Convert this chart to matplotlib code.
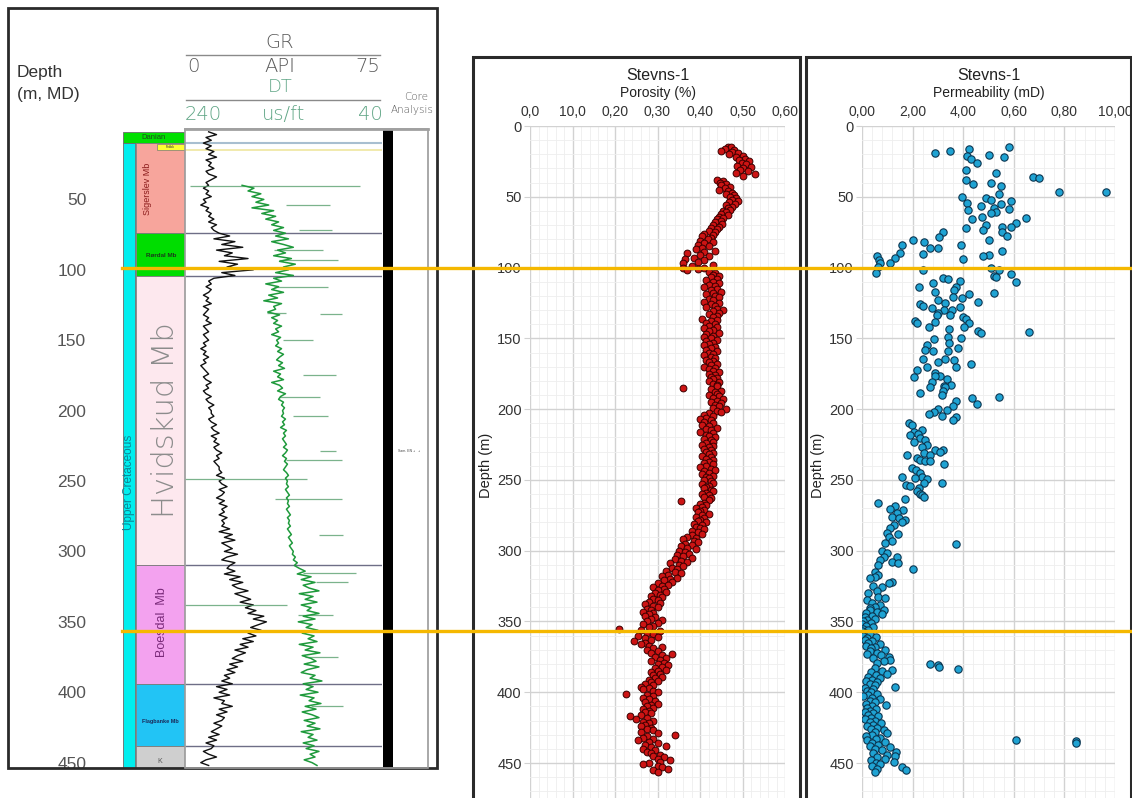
import matplotlib
matplotlib.use("Agg")
import matplotlib.pyplot as plt
import matplotlib.transforms as mtransforms
from matplotlib.patches import Rectangle
from matplotlib.lines import Line2D
from matplotlib.ticker import MultipleLocator
import numpy as np

plt.rcParams['font.family'] = ['Liberation Sans', 'DejaVu Sans']

# ---------------- data ----------------
# formation column (depth in m)
danian_top, danian_base = 2.0, 10.0
fred_top, fred_base = 10.7, 14.9
member_names = ["Sigerslev Mb", "Rørdal Mb", "Hvidskud Mb", "Boesdal  Mb", "Flagbanke Mb", "K"]
member_top = [10.0, 74.0, 104.4, 309.7, 394.2, 438.2]
member_base = [74.0, 104.4, 309.7, 394.2, 438.2, 453.8]
member_colors = ["#f7a59c", "#00dd00", "#fde8ee", "#f3a2ef", "#22c4f5", "#cfcfcf"]

# log curves
gr_depth = np.arange(2, 453, 2)
gr_api = [
    9, 12, 8, 10, 7,
    10, 8, 11, 9, 12, 8, 10, 9, 11, 8, 9, 12, 10, 8, 9,
    7, 9, 8, 10, 7, 8, 6, 9, 8, 10, 9, 11, 9, 12, 10, 11,
    13, 17, 11, 19, 14, 22, 12, 18, 15, 24, 13, 20, 16, 26, 14, 19,
    11, 9, 10, 8, 10, 9, 7, 9, 8, 10, 7, 9, 8, 7, 9, 8, 10, 7, 8, 9, 7, 8, 9,
    7, 8, 6, 8, 7, 9, 7, 8, 6, 7, 8, 9, 7, 8, 10, 8, 9, 7, 8, 10, 8, 9, 11, 9, 10,
    10, 11, 9, 10, 12, 10, 11, 13, 10, 12, 11, 13, 11, 12, 14, 12, 13, 11, 12, 13,
    13, 14, 12, 15, 13, 14, 16, 13, 15, 14, 12, 15, 13, 16, 14, 15, 13, 16, 14, 15,
    14, 17, 13, 18, 15, 19, 14, 16, 18, 15, 20, 16, 14, 19, 17,
    16, 19, 15, 21, 17, 22, 18, 20, 24, 19, 22, 25, 21, 26, 23,
    27, 24, 30, 26, 31, 28, 25, 29, 24, 27,
    22, 26, 21, 24, 19, 23, 20, 18, 22, 17, 20, 16, 19, 15, 17,
    14, 18, 12, 16, 13, 17, 11, 15, 14, 18, 13, 16, 12, 15, 14,
    11, 14, 12, 10, 13, 9, 12, 8, 11, 10, 7, 9, 12, 8, 6, 9,
]
dt_depth = np.arange(40, 453, 2)
dt_usft = [
    182, 170, 176, 163, 172, 160,
    168, 155, 172, 150, 162, 148, 158, 145, 152, 140, 150, 138,
    148, 135, 152, 140, 130, 146, 138, 150, 132, 144, 128, 140, 135, 148, 130,
    150, 142, 158, 145, 152, 140, 155, 146, 160, 142, 150, 148, 156, 144, 152, 146, 150, 142, 148, 145, 152, 143, 147,
    145, 148, 142, 146, 140, 144, 147, 141, 145, 139, 150, 143, 146, 140, 152, 144, 141, 146, 138, 143, 145, 140, 142, 139, 141,
    140, 142, 138, 141, 139, 143, 137, 140, 138, 141, 139, 137, 140, 136, 138, 141, 137, 139, 136, 138, 140, 137, 135, 138, 136,
    137, 135, 138, 136, 134, 137, 135, 136, 134, 137, 135, 133, 136, 134, 135, 133, 136, 134, 132, 135, 133, 131, 134, 132, 130,
    131, 128, 130, 126, 129, 124,
    118, 126, 112, 122, 108, 120, 114, 104, 124, 110, 118, 106, 122, 112, 116, 104, 120, 108, 125, 111, 117, 105, 121, 109,
    115, 106, 124, 110, 118, 103, 121, 112, 107, 119, 104, 116, 122, 108, 113, 101, 120, 110, 117, 105, 123, 109, 114, 102, 118,
    107, 121, 111, 104, 119, 108, 116, 103, 122, 110, 115, 106, 120, 109, 117, 104, 113, 108, 119, 111, 106,
]
dt_spike_depth = [40.5, 54, 72, 86, 93, 112, 131, 131.5, 150, 175, 190, 204, 229, 235,
                  248.6, 263, 288, 315, 322, 338.3, 345, 375, 410]
dt_spike_from = [235, 137, 124, 150, 145, 150, 157, 103, 140, 120, 145, 130, 103, 137,
                 240, 149, 104, 120, 107, 240, 125, 118, 112]
dt_spike_to = [62, 93, 91, 100, 85, 95, 137, 81, 110, 87, 103, 95, 87, 81,
               116, 81, 80, 66, 75, 136, 90, 85, 80]

# core porosity (fraction) vs depth (m)
por_depth = ([14.5, 15, 16, 17, 18, 18.5, 19, 20, 21, 22] + list(range(23, 36))
             + list(range(38, 101)) + [100.5, 101, 102, 103] + list(range(104, 457)))
porosity = [
    .465, .472, .458, .480, .450, .475, .490, .468, .500, .485,
    .505, .492, .515, .498, .508, .488, .520, .502, .495, .512,
    .485, .530, .500, .440, .455, .448, .462, .450, .470, .458,
    .445, .465, .475, .460, .480, .470, .485, .475, .490, .468,
    .482, .460, .475, .465, .470, .455, .460, .450, .465, .445,
    .455, .440, .450, .435, .452, .430, .445, .425, .440, .420,
    .435, .410, .430, .405, .425, .418, .400, .430, .410, .395,
    .420, .405, .390, .435, .410, .370, .400, .420, .385, .365,
    .410, .395, .360, .430, .380, .360, .410, .395, .370, .420,
    .435, .430, .445, .425, .440, .415, .430, .445, .420, .435,
    .410, .440, .425, .450, .430, .415, .435, .445, .420, .430,
    .410, .445, .425, .435, .415, .440, .455, .430, .445, .420,
    .440, .430, .405, .440, .425, .415, .435, .420, .440, .410,
    .430, .420, .445, .415, .430, .410, .425, .440, .415, .430,
    .420, .410, .435, .425, .415, .440, .420, .430, .410, .425,
    .435, .415, .430, .420, .440, .425, .410, .435, .420, .430,
    .445, .420, .435, .425, .440, .430, .420, .445, .430, .440,
    .440, .360, .425, .450, .435, .440, .420, .445, .430, .455,
    .440, .425, .450, .435, .445, .430, .460, .440, .450, .420,
    .410, .430, .415, .400, .425, .410, .430, .405, .420, .440,
    .415, .425, .400, .430, .415, .420, .435, .410, .425, .430,
    .415, .405, .430, .420, .410, .425, .415, .430, .420, .405,
    .425, .415, .430, .420, .410, .430, .415, .400, .425, .435,
    .410, .420, .405, .430, .415, .420, .410, .425, .430, .405,
    .420, .415, .410, .425, .430, .415, .405, .420, .410, .425,
    .420, .355, .410, .400, .415, .405, .390, .410, .400, .395,
    .420, .405, .390, .410, .400, .395, .415, .385, .405, .390,
    .400, .410, .380, .395, .405, .380, .370, .390, .360, .385,
    .395, .365, .380, .355, .370, .390, .350, .365, .375, .345,
    .360, .380, .340, .355, .370, .330, .350, .360, .335, .345,
    .320, .340, .355, .325, .310, .345, .330, .315, .335, .300,
    .325, .310, .290, .315, .300, .320, .295, .305, .285, .310,
    .290, .300, .280, .305, .270, .290, .300, .275, .285, .265,
    .290, .280, .270, .295, .285, .310, .275, .300, .265, .290,
    .280, .210, .260, .305, .275, .290, .255, .300, .270, .285,
    .245, .270, .260, .280, .310, .290, .275, .300, .285, .335,
    .310, .295, .320, .305, .285, .315, .300, .325, .310, .295,
    .320, .300, .285, .305, .290, .310, .295, .280, .300, .285,
    .270, .290, .260, .280, .265, .290, .300, .225, .275, .290,
    .265, .280, .295, .270, .300, .285, .275, .290, .265, .280,
    .270, .285, .260, .235, .275, .250, .290, .265, .280, .270,
    .260, .285, .275, .290, .260, .300, .340, .275, .265, .290,
    .255, .280, .300, .270, .320, .285, .265, .295, .275, .285,
    .305, .290, .315, .300, .330, .305, .280, .265, .300, .310,
    .325, .290, .300,
]

# core permeability (mD) vs depth (m)
perm_depth = [
    15.1, 16.5, 17.4, 19.3, 20.5, 21.2, 22.1, 23.5, 26.4, 31.1,
    33.4, 35.8, 37.0, 38.1, 40.0, 41.2, 42.4, 46.4, 46.4, 48.0,
    49.9, 51.0, 52.3, 52.7, 54.2, 55.0, 56.5, 58.2, 58.4, 59.3,
    60.5, 61.2, 64.0, 65.2, 65.9, 68.3, 70.0, 71.1, 71.6, 72.3,
    73.5, 74.6, 75.1, 77.7, 78.2, 80.5, 80.5, 82.0, 84.0, 84.0,
    86.4, 86.4, 88.3, 89.5, 90.4, 91.1, 91.8, 92.0, 93.5, 94.2,
    95.0, 96.5, 97.0, 99.4, 100.0, 101.7, 101.7, 103.6, 104.5, 105.7,
    106.4, 107.1, 108.0, 109.3, 110.0, 111.1, 113.5, 113.5, 115.9, 117.0,
    117.7, 118.7, 120.6, 121.7, 123.0, 124.0, 125.3, 126.0, 127.0, 128.0,
    128.8, 130.0, 130.0, 131.9, 133.5, 133.5, 134.7, 136.3, 137.5, 138.2,
    138.9, 139.4, 141.8, 141.8, 143.6, 144.6, 145.3, 146.5, 148.9, 150.0,
    150.7, 153.5, 154.7, 157.0, 158.2, 158.7, 159.0, 164.4, 164.6, 165.3,
    166.5, 168.1, 170.5, 170.5, 172.4, 174.2, 176.6, 176.6, 177.0, 179.0,
    180.6, 183.0, 183.7, 184.2, 184.6, 187.0, 188.4, 190.0, 191.2, 192.4,
    194.0, 196.4, 197.8, 200.1, 200.6, 201.8, 203.4, 204.9, 205.8, 207.7,
    210.1, 211.2, 214.8, 216.0, 217.6, 218.3, 220.6, 221.8, 223.0, 225.3,
    226.5, 228.9, 228.9, 230.0, 230.8, 232.4, 232.4, 234.8, 236.0, 236.5,
    236.7, 239.0, 241.8, 243.0, 245.4, 247.7, 247.7, 248.9, 249.6, 252.0,
    252.4, 253.6, 254.3, 256.0, 257.6, 260.0, 260.7, 261.9, 263.8, 266.1,
    268.5, 270.8, 271.3, 273.2, 276.0, 277.2, 278.3, 279.5, 281.9, 284.2,
    287.7, 288.2, 290.1, 292.9, 294.8, 295.5, 300.0, 301.9, 304.2, 304.2,
    306.6, 308.2, 309.0, 310.1, 313.2, 314.8, 317.2, 318.8, 319.5, 321.9,
    323.0, 325.0, 325.9, 328.3, 330.1, 332.5, 333.7, 334.9, 337.2, 338.4,
    339.6, 340.7, 341.9, 342, 343, 344, 345, 346, 347, 348,
    349, 350, 351, 352, 353, 354, 355, 356, 357, 358,
    359, 360, 361, 362, 363, 364, 365, 366, 367, 368,
    369, 370, 371, 372, 373, 374, 375, 376, 377, 378,
    379, 380, 381, 382, 383, 383.5, 384, 385, 386, 387,
    388, 389, 390, 391, 392, 393, 394, 395, 396, 397,
    398, 399, 400, 401, 402, 403, 404, 405, 406, 407,
    408, 409, 410, 411, 412, 413, 414, 415, 416, 417,
    418, 419, 420, 421, 422, 423, 424, 425, 426, 427,
    428, 429, 430, 431, 432, 433, 434, 434, 434.5, 435.5,
    435, 436, 437, 438, 439, 440, 441, 442, 443, 444,
    445, 446, 447, 448, 449, 450, 451, 452, 453, 454,
    455, 456,
]
permeability = [
    5.82, 4.23, 3.46, 2.90, 5.02, 4.16, 5.62, 4.29, 4.56, 4.10,
    5.30, 6.75, 7.00, 4.10, 5.10, 4.40, 5.50, 7.80, 9.66, 5.40,
    3.96, 4.90, 5.10, 5.90, 4.16, 5.50, 4.70, 5.20, 5.80, 4.20,
    5.30, 5.10, 4.76, 6.48, 4.36, 6.08, 4.90, 5.55, 5.90, 4.10,
    4.80, 5.55, 3.20, 5.75, 3.06, 5.00, 2.00, 2.46, 1.60, 3.90,
    2.70, 3.00, 5.55, 1.50, 2.40, 5.00, 4.80, 0.58, 1.30, 4.00,
    0.68, 0.72, 1.10, 0.63, 5.10, 2.40, 5.40, 0.55, 5.90, 5.20,
    5.30, 3.20, 3.40, 3.86, 6.10, 2.80, 2.24, 3.70, 3.63, 2.88,
    5.20, 4.23, 3.60, 3.96, 3.00, 4.60, 3.30, 2.30, 2.40, 3.87,
    2.77, 3.23, 3.54, 3.00, 2.97, 3.46, 4.00, 4.10, 2.10, 2.90,
    4.23, 2.17, 2.64, 4.03, 3.45, 4.60, 6.60, 4.70, 3.38, 3.90,
    2.83, 3.45, 2.56, 3.78, 2.50, 2.80, 3.38, 3.30, 2.43, 3.65,
    3.00, 4.30, 3.70, 2.57, 2.17, 2.90, 3.10, 2.90, 2.04, 3.37,
    2.77, 3.50, 3.25, 2.70, 3.30, 3.20, 2.30, 3.15, 5.40, 4.36,
    3.70, 4.56, 3.60, 3.00, 3.37, 2.84, 2.64, 3.15, 3.70, 3.60,
    1.84, 1.97, 2.37, 2.04, 2.20, 1.90, 2.30, 2.50, 2.07, 2.57,
    2.37, 2.90, 3.20, 3.10, 2.44, 1.77, 2.70, 2.17, 2.30, 2.50,
    2.70, 3.23, 1.97, 2.13, 2.30, 2.37, 1.58, 2.10, 2.57, 3.15,
    2.44, 1.74, 1.90, 2.24, 2.17, 2.30, 2.37, 2.44, 1.70, 0.65,
    1.30, 1.10, 1.64, 1.38, 1.18, 1.47, 1.70, 1.58, 1.25, 1.11,
    0.98, 1.44, 1.05, 1.18, 0.91, 3.70, 0.78, 0.98, 0.85, 1.38,
    0.71, 1.18, 1.44, 0.65, 2.00, 0.52, 0.65, 0.52, 0.32, 1.18,
    1.05, 0.45, 0.78, 0.58, 0.25, 0.65, 0.91, 0.19, 0.38, 0.71,
    0.52, 0.32, 0.85, 0.30, 0.60, 0.15, 0.80, 0.40, 0.10, 0.50,
    0.20, 0.05, 0.35, 0.00, 0.15, 0.45, 0.05, 0.25, 0.00, 0.10,
    0.30, 0.05, 0.55, 0.20, 0.10, 0.40, 0.25, 0.70, 0.15, 0.50,
    0.35, 0.90, 0.30, 0.60, 0.20, 0.75, 1.05, 0.45, 1.10, 0.85,
    0.60, 2.70, 3.00, 3.05, 0.50, 3.80, 1.20, 0.80, 0.35, 1.00,
    0.55, 0.25, 0.70, 0.40, 0.15, 0.60, 0.30, 0.50, 1.30, 0.10,
    0.45, 0.20, 0.35, 0.60, 0.25, 0.05, 0.40, 0.70, 0.30, 0.50,
    0.15, 0.95, 0.40, 0.20, 0.55, 0.30, 0.10, 0.45, 0.25, 0.65,
    0.35, 0.10, 0.50, 0.30, 0.75, 0.45, 0.20, 0.60, 0.35, 0.85,
    0.50, 1.00, 0.40, 0.15, 0.70, 0.55, 0.20, 6.10, 8.45, 8.45,
    0.90, 0.40, 0.65, 0.30, 1.10, 0.50, 0.80, 1.35, 0.45, 1.00,
    1.30, 0.60, 0.90, 0.35, 1.25, 0.55, 0.70, 0.40, 1.60, 0.60,
    1.75, 0.50,
]

por_ticks = [0, 0.1, 0.2, 0.3, 0.4, 0.5, 0.6]
por_ticklabels = ["0,0", "10,0", "0,20", "0,30", "0,40", "0,50", "0,60"]
perm_ticks = [0, 2, 4, 6, 8, 10]
perm_ticklabels = ["0,00", "2,00", "4,00", "0,60", "0,80", "10,00"]
depth_ticks = [0, 50, 100, 150, 200, 250, 300, 350, 400, 450]
marker_depths = [100.2, 356.7]   # the two orange correlation lines

# ---------------- layout helpers (pixel -> figure fraction) ----------------
W, H = 1132, 798


def fx(x):
    return x / W


def fy(y):
    return 1 - y / H


def box(x0, y0, x1, y1):
    return [fx(x0), fy(y1), fx(x1) - fx(x0), fy(y0) - fy(y1)]


def frame(x0, y0, x1, y1, **kw):
    fig.add_artist(Rectangle((fx(x0), fy(y1)), fx(x1) - fx(x0), fy(y0) - fy(y1),
                             transform=fig.transFigure, fill=False, **kw))


def hline(x0, x1, y, **kw):
    fig.add_artist(Line2D([fx(x0), fx(x1)], [fy(y), fy(y)], transform=fig.transFigure, **kw))


fig = plt.figure(figsize=(W / 100, H / 100), dpi=100)
track_bottom = member_base[-1]
light = dict(family=['DejaVu Sans'], fontweight='light')

# ---------------- left panel: well log ----------------
frame(8, 8, 437, 768, ec='#2a2a2a', lw=2)
fig.text(fx(17), fy(72), "Depth", ha='left', va='center', fontsize=12.5, color='#333')
fig.text(fx(17), fy(95), "(m, MD)", ha='left', va='center', fontsize=12.5, color='#333')

gray_t, green_t = '#5a5a5a', '#5fa585'
fig.text(fx(280), fy(42), "GR", ha='center', va='center', fontsize=14, color=gray_t, **light)
hline(186, 380, 55, color='#8a8a8a', lw=1)
fig.text(fx(193), fy(67), "0", ha='center', va='center', fontsize=14, color=gray_t, **light)
fig.text(fx(280), fy(67), "API", ha='center', va='center', fontsize=14, color=gray_t, **light)
fig.text(fx(368), fy(67), "75", ha='center', va='center', fontsize=14, color=gray_t, **light)
fig.text(fx(280), fy(87), "DT", ha='center', va='center', fontsize=13, color=green_t, **light)
hline(186, 380, 100, color='#8a8a8a', lw=1)
fig.text(fx(203), fy(114), "240", ha='center', va='center', fontsize=14, color=green_t, **light)
fig.text(fx(284), fy(114), "us/ft", ha='center', va='center', fontsize=14, color=green_t, **light)
fig.text(fx(370), fy(114), "40", ha='center', va='center', fontsize=14, color=green_t, **light)
fig.text(fx(416), fy(97), "Core", ha='center', va='center', fontsize=7.5, color=gray_t, **light)
fig.text(fx(412), fy(110), "Analysis", ha='center', va='center', fontsize=7.5, color=gray_t, **light)

# formation column
col_ax = fig.add_axes(box(123, 129, 185, 768))
col_ax.set_xlim(0, 1)
col_ax.set_ylim(track_bottom, 0)
for s in col_ax.spines.values():
    s.set_visible(False)
col_ax.set_xticks([])
col_ax.set_yticks(depth_ticks[1:])
col_ax.set_yticklabels([str(d) for d in depth_ticks[1:]])
col_ax.tick_params(axis='y', length=0, pad=26.5, labelsize=12.5, labelcolor='#555')

col_ax.add_patch(Rectangle((0, danian_top), 1, danian_base - danian_top,
                           fc='#00e000', ec='#6a6a6a', lw=0.6))
col_ax.add_patch(Rectangle((0, danian_base), 0.2, track_bottom - danian_base,
                           fc='#00eeee', ec='#6a6a6a', lw=0.6))
for top, base, c in zip(member_top, member_base, member_colors):
    col_ax.add_patch(Rectangle((0.21, top), 0.79, base - top, fc=c, ec='#7a7a7a', lw=0.6))
col_ax.add_patch(Rectangle((0.55, fred_top), 0.45, fred_base - fred_top,
                           fc='#ffff33', ec='#7a7a7a', lw=0.5))

mid = [(t + b) / 2 for t, b in zip(member_top, member_base)]
col_ax.text(0.5, (danian_top + danian_base) / 2, "Danian", ha='center', va='center',
            fontsize=5.5, color='#1e4a1e')
col_ax.text(0.77, (fred_top + fred_base) / 2, "Frdbk", ha='center', va='center',
            fontsize=2.5, color='#333')
col_ax.text(0.1, 251, "Upper Cretaceous", rotation=90, ha='center', va='center',
            fontsize=8.5, color='#0a8595')
col_ax.text(0.40, 42.6, member_names[0], rotation=90, ha='center', va='center',
            fontsize=6.5, color='#8b1a1a')
col_ax.text(0.61, 89.5, member_names[1], ha='center', va='center', fontsize=4.5,
            color='#1a3a1a', fontweight='bold')
col_ax.text(0.68, mid[2], member_names[2], rotation=90, ha='center', va='center',
            fontsize=22, color='#8c8c8c', **light)
col_ax.text(0.63, 350, member_names[3], rotation=90, ha='center', va='center',
            fontsize=9, color='#7a2a7a')
col_ax.text(0.6, 421, member_names[4], ha='center', va='center', fontsize=4,
            color='#1a2a5a', fontweight='bold')
col_ax.text(0.6, mid[5] + 3, member_names[5], ha='center', va='center', fontsize=5,
            color='#555')

# log track (GR black, DT green)
track_ax = fig.add_axes(box(185, 129, 382, 768))
track_ax.set_xlim(0, 75)
track_ax.set_ylim(track_bottom, 0)
track_ax.axis('off')
track_ax.hlines([danian_base], 0, 75, color='#a8bfd0', lw=1.5, zorder=1)
track_ax.hlines([fred_base], 0, 75, color='#efe6a0', lw=1.2, zorder=1)
track_ax.hlines(member_top[1:], 0, 75, color='#6e6e86', lw=1, zorder=1)
track_ax.plot(gr_api, gr_depth, color='#111', lw=1.0, zorder=3)

dt_ax = track_ax.twiny()
dt_ax.set_xlim(240, 40)
dt_ax.set_ylim(track_bottom, 0)
dt_ax.axis('off')
dt_ax.hlines(dt_spike_depth, dt_spike_from, dt_spike_to, color='#5aa070', lw=0.9, alpha=0.8)
dt_ax.plot(dt_usft, dt_depth, color='#1f9a3c', lw=1.1)

# core analysis column
core_ax = fig.add_axes(box(382, 129, 428, 768))
core_ax.set_xlim(0, 1)
core_ax.set_ylim(track_bottom, 0)
core_ax.axis('off')
core_ax.add_patch(Rectangle((0.02, 0), 0.22, track_bottom, fc='black', ec='none'))
core_ax.text(0.35, 228.7, "Sam. EN +   +", ha='left', va='center', fontsize=2.5, color='#444')

frame(185, 129, 428, 768, ec='#9a9a9a', lw=1.2)
hline(185, 428, 129, color='#a0a0a0', lw=2)

# ---------------- scatter panels ----------------
por_ax = fig.add_axes(box(530, 126, 785, 805.5))
perm_ax = fig.add_axes(box(862, 126, 1115, 805.5))

por_ax.scatter(porosity, por_depth, s=24, c='#cc1414', edgecolors='#3a0000',
               linewidths=0.7, zorder=3)
perm_ax.scatter(permeability, perm_depth, s=28, c='#1fa3d3', edgecolors='#0b3550',
                linewidths=0.8, zorder=3)

for ax, xmax, ticks, labels, minor in ((por_ax, 0.6, por_ticks, por_ticklabels, 0.02),
                                       (perm_ax, 10, perm_ticks, perm_ticklabels, 0.4)):
    ax.set_xlim(0, xmax)
    ax.set_ylim(480, 0)
    ax.xaxis.tick_top()
    ax.set_xticks(ticks)
    ax.set_xticklabels(labels)
    ax.xaxis.set_minor_locator(MultipleLocator(minor))
    ax.set_yticks(depth_ticks)
    ax.yaxis.set_minor_locator(MultipleLocator(10))
    ax.grid(which='major', color='#d2d2d2', lw=1)
    ax.grid(which='minor', color='#eeeeee', lw=0.6)
    ax.set_axisbelow(True)
    for s in ax.spines.values():
        s.set_visible(False)
    ax.tick_params(axis='x', which='both', length=0, pad=5, labelsize=10, labelcolor='#333')
    ax.tick_params(axis='y', which='major', length=4, color='#d2d2d2', pad=2,
                   labelsize=10.5, labelcolor='#333')
    ax.tick_params(axis='y', which='minor', length=0)
    ax.set_ylabel("Depth (m)", fontsize=10.5, color='#222')
    ax.yaxis.set_label_coords(-0.145, 0.5)

cx_por = (530 + 785) / 2
cx_perm = (862 + 1115) / 2
fig.text(fx(cx_por), fy(75), "Stevns-1", ha='center', va='center', fontsize=11.5, color='#222')
fig.text(fx(cx_por), fy(93), "Porosity (%)", ha='center', va='center', fontsize=10, color='#222')
fig.text(fx(cx_perm), fy(75), "Stevns-1", ha='center', va='center', fontsize=11.5, color='#222')
fig.text(fx(cx_perm), fy(93), "Permeability (mD)", ha='center', va='center', fontsize=10,
         color='#222')

frame(473, 57, 800, 812, ec='#2a2a2a', lw=2.2)
frame(806, 57, 1131, 812, ec='#2a2a2a', lw=2.2)

# ---------------- orange correlation lines ----------------
blend = mtransforms.blended_transform_factory(fig.transFigure, por_ax.transData)
for d in marker_depths:
    fig.add_artist(Line2D([fx(122), 1.0], [d, d], transform=blend, color='#f5b800',
                          lw=2.4, zorder=20))

fig.savefig("out.png", dpi=100)
